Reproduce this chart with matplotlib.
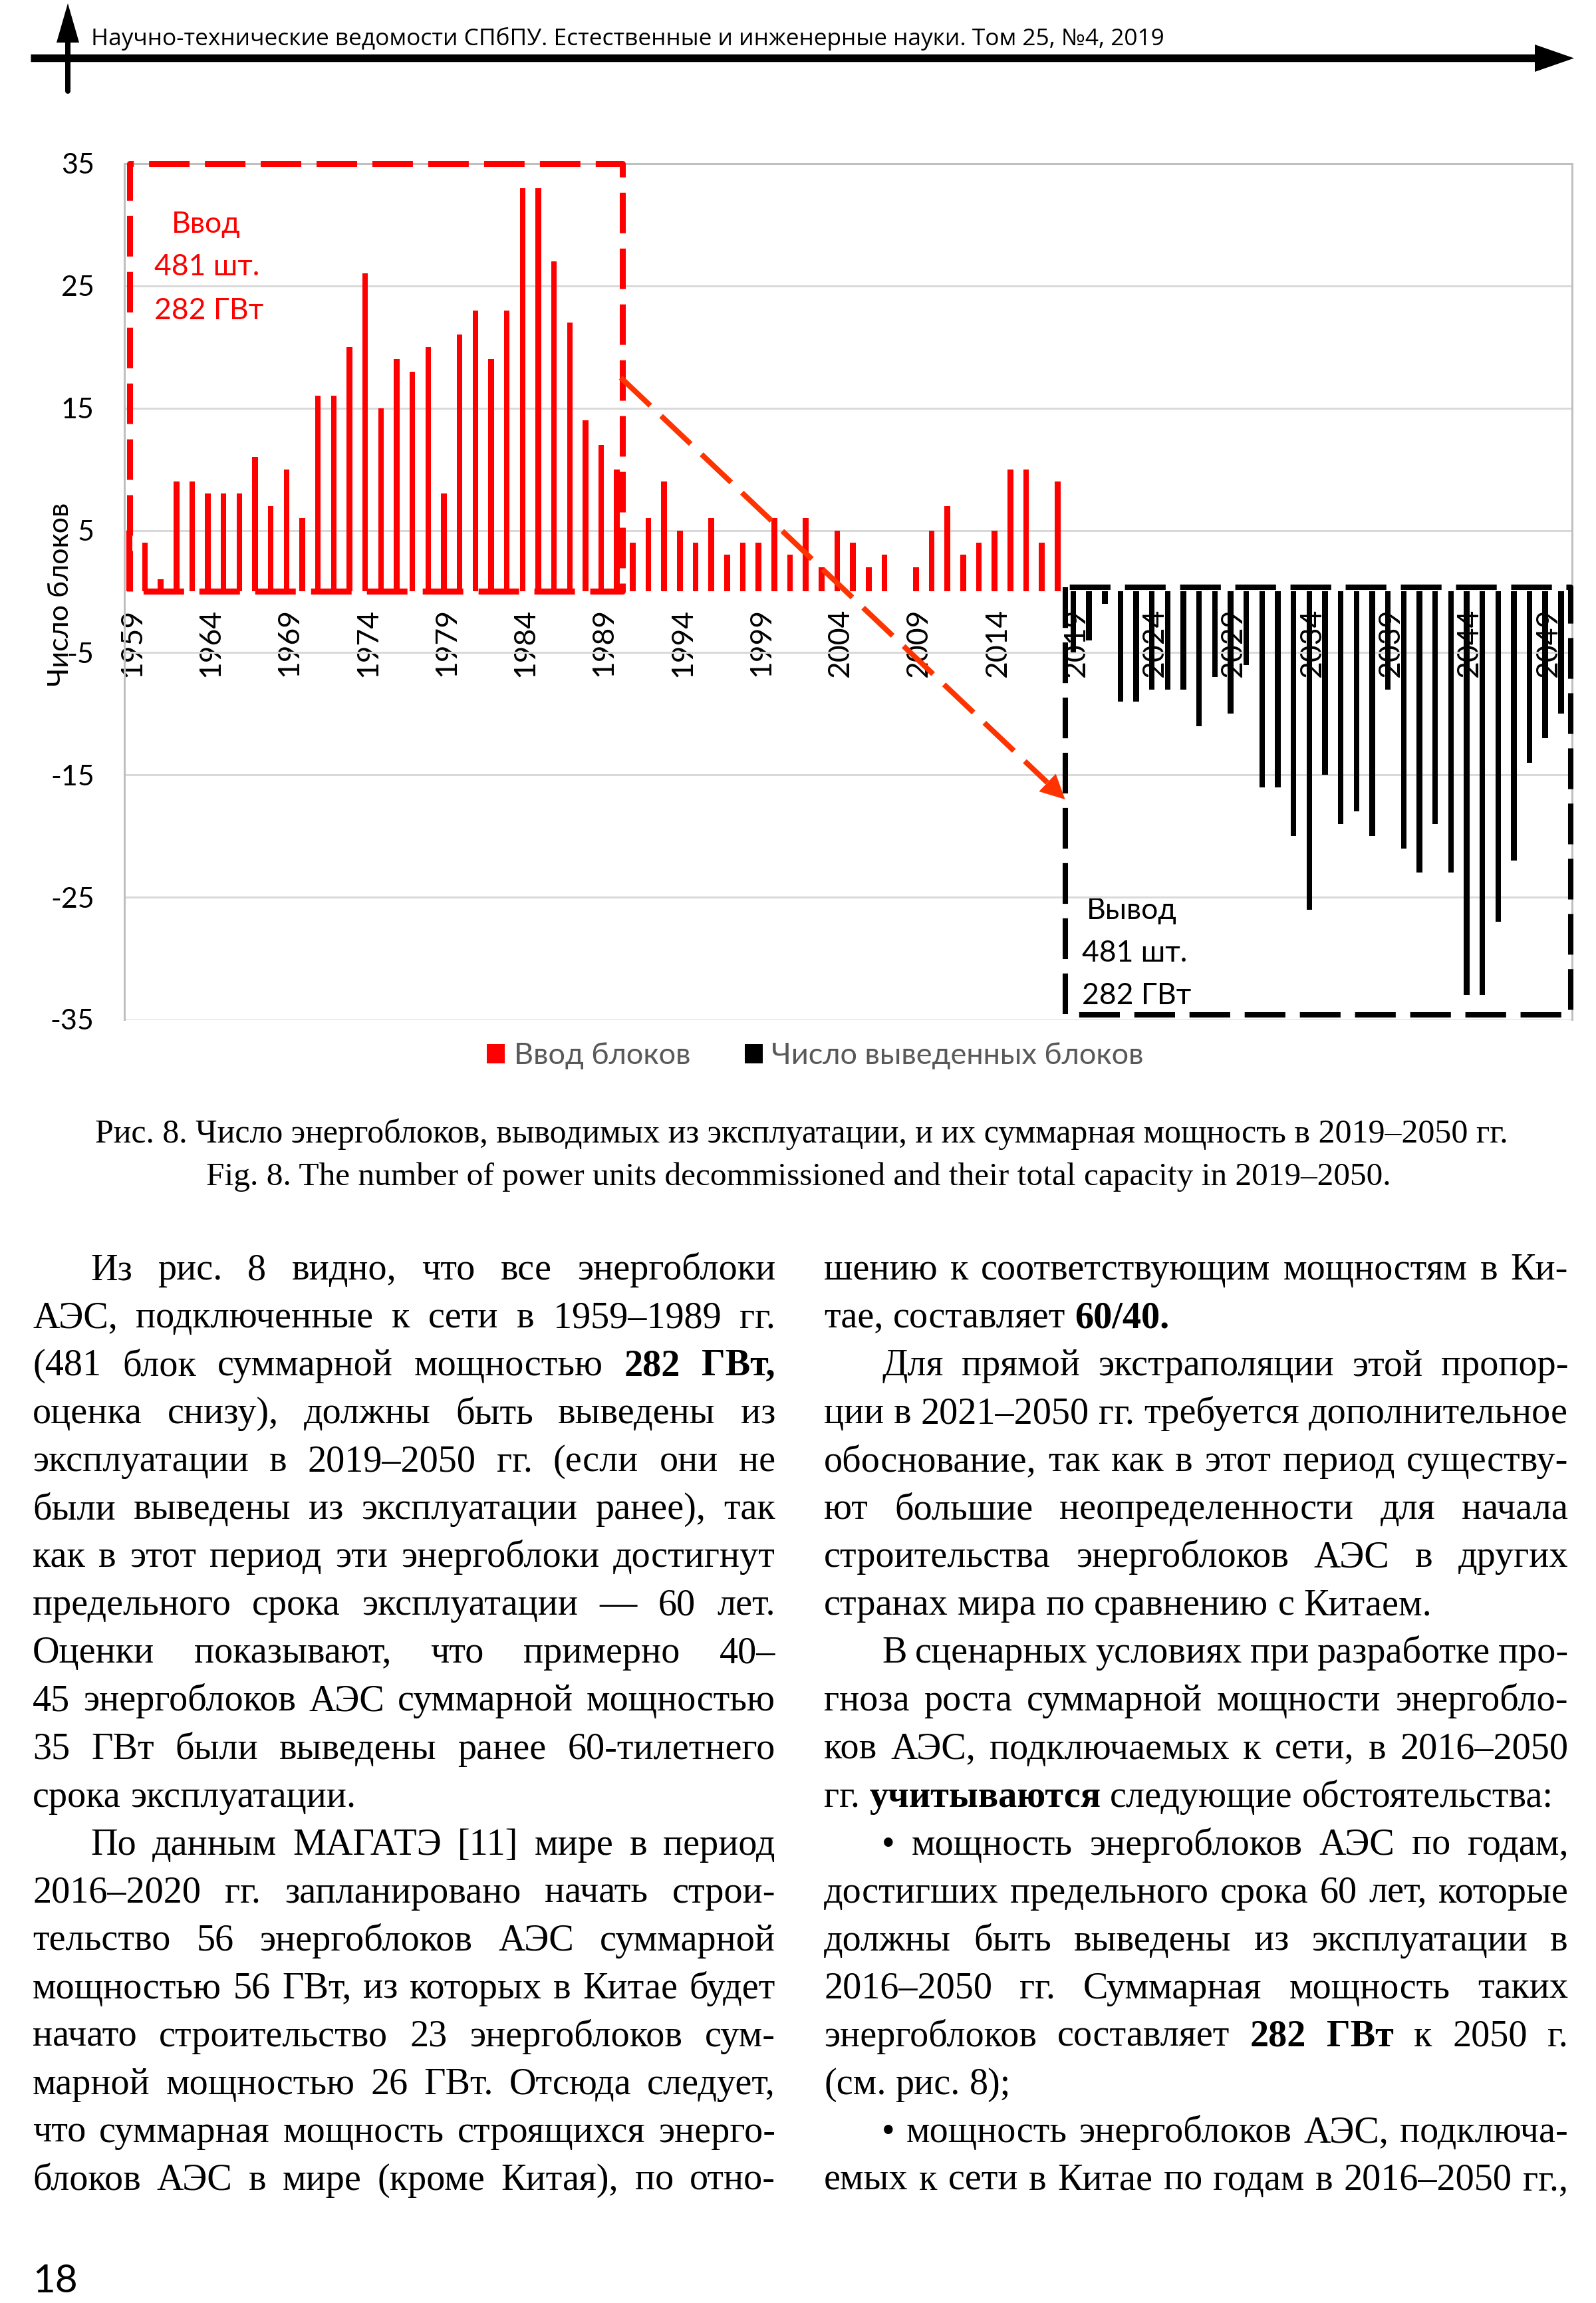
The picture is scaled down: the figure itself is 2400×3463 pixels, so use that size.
import matplotlib
matplotlib.use('Agg')
import matplotlib.pyplot as plt
import numpy as np

# ---------------- data ----------------
years = list(range(1959, 2051))
commissioned_years = list(range(1959, 2019))
commissioned = [5, 4, 1, 9, 9, 8, 8, 8, 11, 7, 10, 6, 16, 16, 20, 26, 15, 19, 18, 20,
                8, 21, 23, 19, 23, 33, 33, 27, 22, 14, 12, 10,
                4, 6, 9, 5, 4, 6, 3, 4, 4, 6, 3, 6, 2, 5, 4, 2, 3, 0, 2, 5, 7, 3, 4, 5,
                10, 10, 4, 9]
decommissioned_years = list(range(2019, 2051))
decommissioned = [-5, -4, -1, -9, -9, -8, -8, -8, -11, -7, -10, -6, -16, -16, -20, -26,
                  -15, -19, -18, -20, -8, -21, -23, -19, -23, -33, -33, -27, -22, -14,
                  -12, -10]
ytick_values = [-35, -25, -15, -5, 5, 15, 25, 35]
xtick_years = list(range(1959, 2051, 5))
series_labels = ['Ввод блоков', 'Число выведенных блоков']
y_axis_label = 'Число блоков'
in_box_years = (1959, 1990)
out_box_years = (2019, 2050)
in_box_lines = ['Ввод', '481 шт.', '282 ГВт']
out_box_lines = ['Вывод', '481 шт.', '282 ГВт']

header_text = ('Научно-технические ведомости СПбПУ. Естественные и инженерные науки. '
               'Том 25, №4, 2019')
caption_lines = ['Рис. 8. Число энергоблоков, выводимых из эксплуатации, и их суммарная '
                 'мощность в 2019–2050 гг.',
                 'Fig. 8. The number of power units decommissioned and their total '
                 'capacity in 2019–2050.']
page_number = '18'

# (text, paragraph indent, last line of paragraph); words starting with * are bold
left_lines = [
    ("Из рис. 8 видно, что все энергоблоки", 1, 0),
    ("АЭС, подключенные к сети в 1959–1989 гг.", 0, 0),
    ("(481 блок суммарной мощностью *282 *ГВт,", 0, 0),
    ("оценка снизу), должны быть выведены из", 0, 0),
    ("эксплуатации в 2019–2050 гг. (если они не", 0, 0),
    ("были выведены из эксплуатации ранее), так", 0, 0),
    ("как в этот период эти энергоблоки достигнут", 0, 0),
    ("предельного срока эксплуатации — 60 лет.", 0, 0),
    ("Оценки показывают, что примерно 40–", 0, 0),
    ("45 энергоблоков АЭС суммарной мощностью", 0, 0),
    ("35 ГВт были выведены ранее 60-тилетнего", 0, 0),
    ("срока эксплуатации.", 0, 1),
    ("По данным МАГАТЭ [11] мире в период", 1, 0),
    ("2016–2020 гг. запланировано начать строи-", 0, 0),
    ("тельство 56 энергоблоков АЭС суммарной", 0, 0),
    ("мощностью 56 ГВт, из которых в Китае будет", 0, 0),
    ("начато строительство 23 энергоблоков сум-", 0, 0),
    ("марной мощностью 26 ГВт. Отсюда следует,", 0, 0),
    ("что суммарная мощность строящихся энерго-", 0, 0),
    ("блоков АЭС в мире (кроме Китая), по отно-", 0, 0),
]
right_lines = [
    ("шению к соответствующим мощностям в Ки-", 0, 0),
    ("тае, составляет *60/40.", 0, 1),
    ("Для прямой экстраполяции этой пропор-", 1, 0),
    ("ции в 2021–2050 гг. требуется дополнительное", 0, 0),
    ("обоснование, так как в этот период существу-", 0, 0),
    ("ют большие неопределенности для начала", 0, 0),
    ("строительства энергоблоков АЭС в других", 0, 0),
    ("странах мира по сравнению с Китаем.", 0, 1),
    ("В сценарных условиях при разработке про-", 1, 0),
    ("гноза роста суммарной мощности энергобло-", 0, 0),
    ("ков АЭС, подключаемых к сети, в 2016–2050", 0, 0),
    ("гг. *учитываются следующие обстоятельства:", 0, 1),
    ("• мощность энергоблоков АЭС по годам,", 1, 0),
    ("достигших предельного срока 60 лет, которые", 0, 0),
    ("должны быть выведены из эксплуатации в", 0, 0),
    ("2016–2050 гг. Суммарная мощность таких", 0, 0),
    ("энергоблоков составляет *282 *ГВт к 2050 г.", 0, 0),
    ("(см. рис. 8);", 0, 1),
    ("• мощность энергоблоков АЭС, подключа-", 1, 0),
    ("емых к сети в Китае по годам в 2016–2050 гг.,", 0, 0),
]

# ---------------- figure ----------------
W_PX, H_PX = 2400, 3463
DPI = 100
PX = 72.0 / DPI   # points per pixel

SANS = ['Lato', 'Noto Sans', 'DejaVu Sans']
SERIF = ['Liberation Serif', 'DejaVu Serif']
HEAD = ['Open Sans', 'DejaVu Sans']
plt.rcParams['font.family'] = SANS
plt.rcParams['axes.unicode_minus'] = False

fig = plt.figure(figsize=(W_PX / DPI, H_PX / DPI), dpi=DPI)
fig.patch.set_facecolor('white')
renderer = fig.canvas.get_renderer()

# page axes in pixel coordinates
axp = fig.add_axes([0, 0, 1, 1])
axp.set_xlim(0, W_PX)
axp.set_ylim(H_PX, 0)
axp.axis('off')

# ---------------- chart ----------------
x_left, x_right = 186.7, 2363.5
y_top, y_bot = 246.0, 1533.0
ax = fig.add_axes([x_left / W_PX, 1 - y_bot / H_PX,
                   (x_right - x_left) / W_PX, (y_bot - y_top) / H_PX])
ax.set_facecolor('none')

FS_CHART = 31
off = -0.18
xc = np.array(commissioned_years) - years[0] + off
xd = np.array(decommissioned_years) - years[0] + off
ax.bar(xc, commissioned, width=0.36, color='#FF0000', zorder=2, label=series_labels[0])
ax.bar(xd, decommissioned, width=0.36, color='#000000', zorder=2, label=series_labels[1])

ax.set_xlim(-0.5, len(years) - 0.5)
ax.set_ylim(-35, 35)
ax.set_yticks(ytick_values)
ax.set_yticklabels([str(v) for v in ytick_values], fontsize=FS_CHART)
ax.yaxis.grid(True, color='#D9D9D9', lw=3 * PX)
ax.set_axisbelow(True)
for s in ['left', 'right', 'top']:
    ax.spines[s].set_color('#BFBFBF')
    ax.spines[s].set_linewidth(3 * PX)
ax.spines['bottom'].set_position(('data', 0))
ax.spines['bottom'].set_visible(False)
ax.set_xticks(np.array(xtick_years) - years[0])
ax.set_xticklabels([str(y) for y in xtick_years], rotation=90, fontsize=32)
ax.tick_params(axis='x', length=0, pad=25 * PX, colors='black')
ax.tick_params(axis='y', length=0, pad=45 * PX, colors='black')

ax.set_ylabel(y_axis_label, fontsize=FS_CHART)
ax.yaxis.set_label_coords((110 - x_left) / (x_right - x_left), (y_bot - 894) / (y_bot - y_top))

# dashed boxes
i0 = in_box_years[0] - years[0] - 0.15
i1 = in_box_years[1] - years[0] + 0.16
ax.plot([i0, i0, i1, i1, i0], [0, 35, 35, 0, 0], color='#FF0000', lw=6.5,
        ls=(0, (6.75, 2.55)), clip_on=False, zorder=3, dash_capstyle='butt')
o0 = out_box_years[0] - years[0] - 0.7
o1 = out_box_years[1] - years[0] + 0.43
ax.plot([o0, o0, o1, o1, o0], [0.35, -34.6, -34.6, 0.35, 0.35], color='#000000', lw=5.8,
        ls=(0, (7.6, 2.7)), clip_on=False, zorder=3, dash_capstyle='butt')

# arrow from input box to output box
ax0, ay0 = i1 - 0.1, 17.5
ax1, ay1 = o0, -17.0
fr = 0.96
ax.plot([ax0, ax0 + fr * (ax1 - ax0)], [ay0, ay0 + fr * (ay1 - ay0)], color='#FF3300',
        lw=5.8, ls=(0, (7.6, 2.8)), zorder=4, dash_capstyle='butt')
ax.annotate('', xy=(ax1, ay1), xytext=(ax0 + 0.95 * (ax1 - ax0), ay0 + 0.95 * (ay1 - ay0)),
            arrowprops=dict(arrowstyle='-|>,head_length=1.2,head_width=0.6',
                            mutation_scale=22, color='#FF3300', lw=0,
                            shrinkA=0, shrinkB=0), zorder=4)

# legend
handles, labels = ax.get_legend_handles_labels()
leg = fig.legend(handles, labels, loc='center', bbox_to_anchor=(1226 / W_PX, 1 - 1588 / H_PX),
                 ncol=2, frameon=False, fontsize=32.5, handlelength=0.6,
                 handleheight=0.6, handletextpad=0.3, columnspacing=1.8)
for t in leg.get_texts():
    t.set_color('#595959')

# box annotations (page pixel coords)
for txt, (x, y) in zip(in_box_lines, [(258, 338), (232, 402), (232, 468)]):
    axp.text(x, y, txt, color='#FF0000', fontsize=32, ha='left', va='center')
for txt, (x, y) in zip(out_box_lines, [(1634, 1369), (1627, 1433), (1627, 1497)]):
    axp.text(x, y, txt, color='#000000', fontsize=32, ha='left', va='center')


# ---------------- page decorations ----------------
def fit_width(t, target):
    w = t.get_window_extent(renderer).width
    t.set_fontsize(t.get_fontsize() * target / w)


# header arrows
axp.plot([46, 2312], [87.5, 87.5], color='black', lw=11.5 * PX, solid_capstyle='butt')
axp.fill([2308, 2367, 2308], [67, 87.5, 108], color='black', lw=0)
axp.plot([102, 102], [137, 55], color='black', lw=8 * PX, solid_capstyle='round')
axp.fill([85, 102, 119], [64, 5, 64], color='black', lw=0)
ht = axp.text(137, 68, header_text, ha='left', va='baseline', family=HEAD, fontsize=28)
fit_width(ht, 1611)

# caption
for txt, (x, y, w) in zip(caption_lines, [(1205, 1718, 2137), (1201, 1782, 1784)]):
    t = axp.text(x, y, txt, ha='center', va='baseline', family=SERIF, fontsize=34)
    fit_width(t, w)

# body text
FS_BODY = 40.5


def draw_column(lines, x0, x1, base0, pitch, fs):
    space = fs / PX * 0.25
    for i, (txt, ind, last) in enumerate(lines):
        y = base0 + i * pitch
        words = []
        for tk in txt.split(' '):
            words.append((tk.lstrip('*'), tk.startswith('*')))
        start = x0 + (87 if ind else 0)
        arts = [axp.text(0, y, w, fontsize=fs, family=SERIF,
                         fontweight='bold' if b else 'normal', ha='left', va='baseline')
                for w, b in words]
        widths = [a.get_window_extent(renderer).width for a in arts]
        total = sum(widths)
        avail = x1 - start
        n = len(words)
        if last or n == 1:
            gap = space
        else:
            gap = (avail - total) / (n - 1)
            if gap < 0.4 * space:
                sc = (avail - 0.4 * space * (n - 1)) / total
                for a in arts:
                    a.set_fontsize(fs * sc)
                widths = [w * sc for w in widths]
                gap = 0.4 * space
        x = start
        for a, w in zip(arts, widths):
            a.set_x(x)
            x += w + gap


draw_column(left_lines, 49, 1166, 1924, 72.05, FS_BODY)
draw_column(right_lines, 1239, 2358, 1924, 72.05, FS_BODY)

# page number
axp.text(49, 3447, page_number, ha='left', va='baseline', fontsize=42)

fig.savefig('out.png', dpi=DPI, facecolor='white')
